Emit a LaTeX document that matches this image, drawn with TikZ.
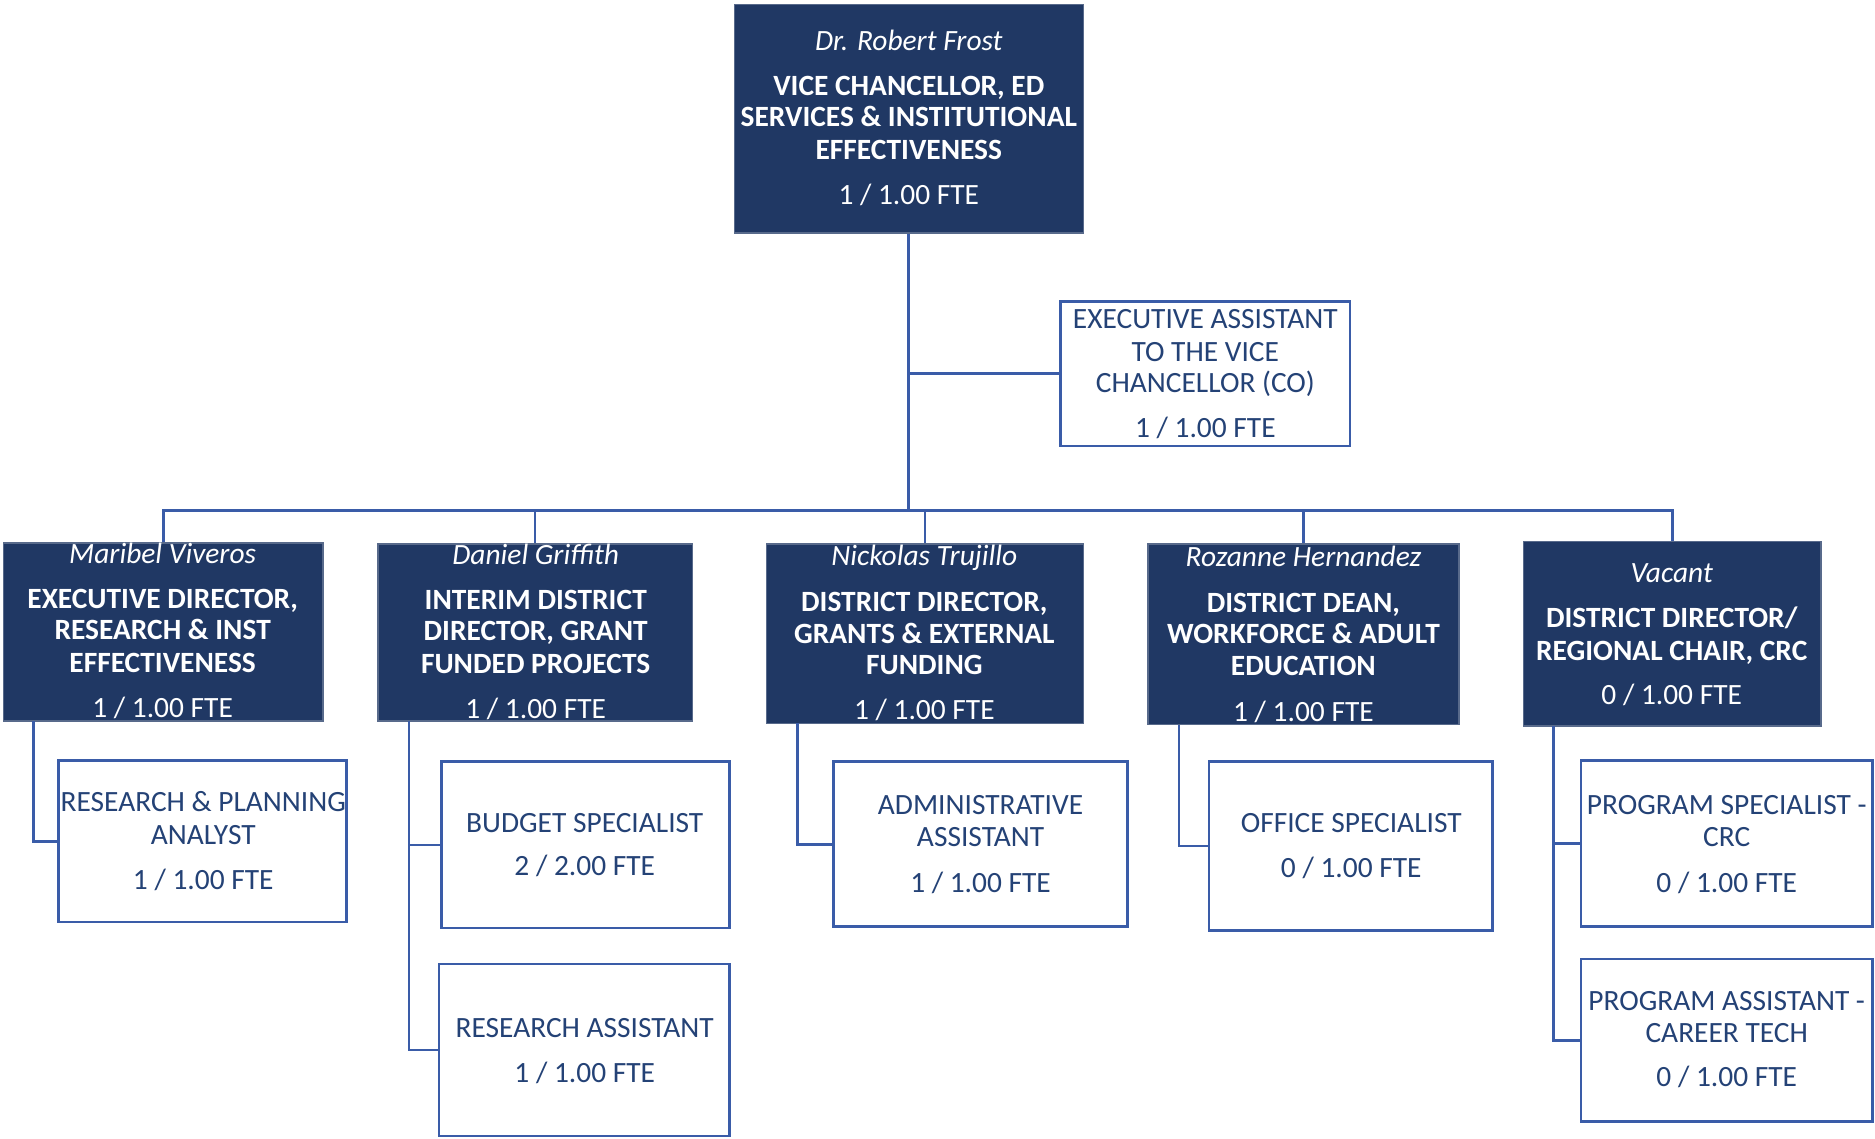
\documentclass[tikz,border=0pt]{standalone}
\usepackage{fontspec}
\setmainfont{Carlito}
\usetikzlibrary{fit}
\definecolor{navy}{RGB}{32,56,100}
\definecolor{lineblue}{RGB}{58,92,168}
\definecolor{txtblue}{RGB}{36,66,118}
\begin{document}
\begin{tikzpicture}[x=0.5pt,y=-0.5pt,
  darkbox/.style={fill=navy, draw=navy!75!white, line width=0.6pt, inner sep=0pt},
  lightbox/.style={fill=white, draw=lineblue, line width=1.1pt, inner sep=0pt},
  conn/.style={draw=lineblue, line width=1.1pt},
  wt/.style={text=white, font=\fontsize{12.3}{14}\selectfont\bfseries, inner sep=0pt, anchor=base},
  wn/.style={text=white, font=\fontsize{12.3}{14}\selectfont\itshape, inner sep=0pt, anchor=base},
  wf/.style={text=white, font=\fontsize{12.3}{14}\selectfont, inner sep=0pt, anchor=base},
  bt/.style={text=txtblue, font=\fontsize{12.3}{14}\selectfont, inner sep=0pt, anchor=base}
]
\useasboundingbox (0,0) rectangle (1568,952);

% ---------- boxes ----------
\node[darkbox, fit={(614,4) (906,195)}] (vc) {};
\node[lightbox, fit={(887,252) (1129,373)}] (ea) {};
\node[darkbox, fit={(3,454) (270,603)}] (d1) {};
\node[darkbox, fit={(316,455) (579,603)}] (d2) {};
\node[darkbox, fit={(641,455) (906,605)}] (d3) {};
\node[darkbox, fit={(960,455) (1220,606)}] (d4) {};
\node[darkbox, fit={(1274,453) (1523,607)}] (d5) {};
\node[lightbox, fit={(49,636) (290,771)}] (r1) {};
\node[lightbox, fit={(369,637) (610,776)}] (r2a) {};
\node[lightbox, fit={(367,806) (610,950)}] (r2b) {};
\node[lightbox, fit={(697,637) (943,775)}] (r3) {};
\node[lightbox, fit={(1011,637) (1248,778)}] (r4) {};
\node[lightbox, fit={(1322,636) (1566,775)}] (r5a) {};
\node[lightbox, fit={(1322,802) (1566,938)}] (r5b) {};

% ---------- connectors ----------
\coordinate (busc) at (760,427);
\draw[conn] (vc.south) -- (busc);
\draw[conn] (vc.south |- ea.west) -- (ea.west);
\draw[conn] (d1.north) -- (d1.north |- busc) -- (d5.north |- busc) -- (d5.north);
\draw[conn] (d2.north |- busc) -- (d2.north);
\draw[conn] (d3.north |- busc) -- (d3.north);
\draw[conn] (d4.north |- busc) -- (d4.north);

\coordinate (s1) at (28,603);
\coordinate (s2) at (342,603);
\coordinate (s3) at (667,605);
\coordinate (s4) at (986,606);
\coordinate (s5) at (1299,607);
\draw[conn] (s1) |- (r1.west);
\draw[conn] (s2) |- (r2b.west);
\draw[conn] (s2 |- r2a.west) -- (r2a.west);
\draw[conn] (s3) |- (r3.west);
\draw[conn] (s4) |- (r4.west);
\draw[conn] (s5) |- (r5b.west);
\draw[conn] (s5 |- r5a.west) -- (r5a.west);

% ---------- texts ----------
\node[wn] (vc-n) at (760,42) {Dr. Robert Frost};
\node[wt] (vc-1) at (760,80) {VICE CHANCELLOR, ED};
\node[wt] (vc-2) at (760,106) {SERVICES \& INSTITUTIONAL};
\node[wt] (vc-3) at (760,133) {EFFECTIVENESS};
\node[wf] (vc-f) at (760,171) {1 / 1.00 FTE};

\node[bt] (ea-1) at (1008,275) {EXECUTIVE ASSISTANT};
\node[bt] (ea-2) at (1008,302) {TO THE VICE};
\node[bt] (ea-3) at (1008,328) {CHANCELLOR (CO)};
\node[bt] (ea-f) at (1008,366) {1 / 1.00 FTE};

\node[wn] (d1-n) at (136,471) {Maribel Viveros};
\node[wt] (d1-1) at (136,509) {EXECUTIVE DIRECTOR,};
\node[wt] (d1-2) at (136,535) {RESEARCH \& INST};
\node[wt] (d1-3) at (136,562) {EFFECTIVENESS};
\node[wf] (d1-f) at (136,600) {1 / 1.00 FTE};

\node[wn] (d2-n) at (448,472) {Daniel Griffith};
\node[wt] (d2-1) at (448,510) {INTERIM DISTRICT};
\node[wt] (d2-2) at (448,536) {DIRECTOR, GRANT};
\node[wt] (d2-3) at (448,563) {FUNDED PROJECTS};
\node[wf] (d2-f) at (448,601) {1 / 1.00 FTE};

\node[wn] (d3-n) at (773,473) {Nickolas Trujillo};
\node[wt] (d3-1) at (773,511) {DISTRICT DIRECTOR,};
\node[wt] (d3-2) at (773,538) {GRANTS \& EXTERNAL};
\node[wt] (d3-3) at (773,564) {FUNDING};
\node[wf] (d3-f) at (773,602) {1 / 1.00 FTE};

\node[wn] (d4-n) at (1090,474) {Rozanne Hernandez};
\node[wt] (d4-1) at (1090,512) {DISTRICT DEAN,};
\node[wt] (d4-2) at (1090,538) {WORKFORCE \& ADULT};
\node[wt] (d4-3) at (1090,565) {EDUCATION};
\node[wf] (d4-f) at (1090,603) {1 / 1.00 FTE};

\node[wn] (d5-n) at (1398,487) {Vacant};
\node[wt] (d5-1) at (1398,525) {DISTRICT DIRECTOR/};
\node[wt] (d5-2) at (1398,552) {REGIONAL CHAIR, CRC};
\node[wf] (d5-f) at (1398,589) {0 / 1.00 FTE};

\node[bt] (r1-1) at (170,679) {RESEARCH \& PLANNING};
\node[bt] (r1-2) at (170,706) {ANALYST};
\node[bt] (r1-f) at (170,744) {1 / 1.00 FTE};

\node[bt] (r2a-1) at (489,696) {BUDGET SPECIALIST};
\node[bt] (r2a-f) at (489,732) {2 / 2.00 FTE};

\node[bt] (r2b-1) at (489,868) {RESEARCH ASSISTANT};
\node[bt] (r2b-f) at (489,905) {1 / 1.00 FTE};

\node[bt] (r3-1) at (820,681) {ADMINISTRATIVE};
\node[bt] (r3-2) at (820,708) {ASSISTANT};
\node[bt] (r3-f) at (820,746) {1 / 1.00 FTE};

\node[bt] (r4-1) at (1130,696) {OFFICE SPECIALIST};
\node[bt] (r4-f) at (1130,734) {0 / 1.00 FTE};

\node[bt] (r5a-1) at (1444,681) {PROGRAM SPECIALIST -};
\node[bt] (r5a-2) at (1444,708) {CRC};
\node[bt] (r5a-f) at (1444,746) {0 / 1.00 FTE};

\node[bt] (r5b-1) at (1444,845) {PROGRAM ASSISTANT -};
\node[bt] (r5b-2) at (1444,872) {CAREER TECH};
\node[bt] (r5b-f) at (1444,909) {0 / 1.00 FTE};
\end{tikzpicture}
\end{document}
